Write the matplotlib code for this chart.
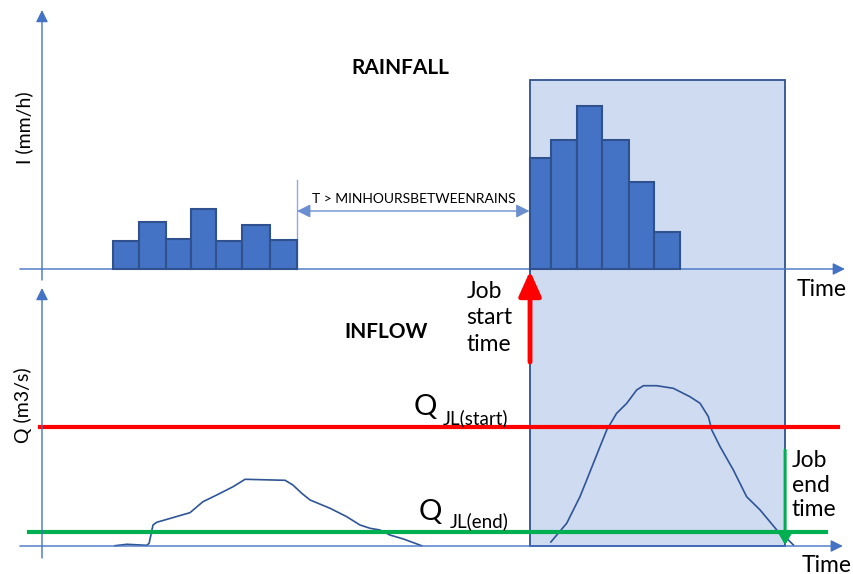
import numpy as np
import matplotlib
matplotlib.use("Agg")
import matplotlib.pyplot as plt
from matplotlib.patches import Rectangle

plt.rcParams["font.family"] = ["Lato", "DejaVu Sans"]

# — rainfall blocks (time in h, intensity in mm/h, schematic units) —
storm1_edges = [2.72, 3.75, 4.77, 5.73, 6.69, 7.69, 8.77, 9.81]
storm1_int = [2.8, 4.7, 3.0, 6.0, 2.8, 4.4, 2.9]
storm2_edges = [18.77, 19.58, 20.57, 21.54, 22.58, 23.54, 24.54]
storm2_int = [11.1, 12.9, 16.3, 12.9, 8.7, 3.7]

# — inflow hydrographs —
hydro1_t = [2.81, 3.26, 4.03, 4.12, 4.27, 4.41, 5.69, 6.19, 6.72, 7.35, 7.81, 9.35,
            9.65, 9.99, 10.31, 11.08, 11.72, 12.23, 12.62, 13.0, 13.38, 13.90, 14.60]
hydro1_q = [0.03, 0.17, 0.07, 0.27, 2.1, 2.37, 3.33, 4.43, 5.1, 5.93, 6.67, 6.57,
            6.1, 5.27, 4.6, 3.77, 2.93, 2.1, 1.77, 1.6, 1.1, 0.7, 0.03]
hydro2_t = [19.57, 20.18, 20.69, 20.95, 21.46, 21.72, 22.10, 22.49, 22.87, 23.13, 23.64, 24.28,
            24.92, 25.31, 25.63, 25.76, 26.08, 26.59, 27.10, 27.62, 28.26, 28.58, 28.90]
hydro2_q = [0.4, 2.27, 4.93, 6.6, 9.93, 11.6, 13.27, 14.27, 15.6, 16.03, 16.03, 15.77,
            14.93, 14.27, 12.93, 11.6, 9.93, 7.6, 4.93, 3.6, 1.6, 0.93, 0.1]

q_jl_start = 11.9
q_jl_end = 1.4
job_start = 18.75
job_end = 28.58
gap_start = 9.81
window_top = 18.9

AXIS_C = "#4472C4"
BAR_EDGE = "#2F528F"
LINE_C = "#2F5597"

fig = plt.figure(figsize=(8.54, 5.74), dpi=100)
ax_top = fig.add_axes([0, 0.5, 1, 0.5])
ax_bot = fig.add_axes([0, 0, 1, 0.5])
for ax in (ax_top, ax_bot):
    ax.set_xlim(-1.615, 31.23)
    ax.set_facecolor("none")
    ax.axis("off")
ax_top.set_ylim(-1.8, 26.9)
ax_bot.set_ylim(-2.8, 25.9)

arrow_kw = dict(arrowstyle="-|>,head_length=0.4,head_width=0.2", mutation_scale=18,
                color=AXIS_C, lw=1.0, shrinkA=0, shrinkB=0)

# axes with arrows
ax_top.annotate("", xy=(0, 25.9), xytext=(0, -1.1), arrowprops=arrow_kw, annotation_clip=False)
ax_top.annotate("", xy=(30.88, 0), xytext=(-0.85, 0), arrowprops=arrow_kw, annotation_clip=False)
ax_bot.annotate("", xy=(0, 25.8), xytext=(0, -1.2), arrowprops=arrow_kw, annotation_clip=False)
ax_bot.annotate("", xy=(30.8, 0), xytext=(-0.85, 0), arrowprops=arrow_kw, annotation_clip=False)

# job window spanning both panels
fig.canvas.draw()
inv = fig.transFigure.inverted()
x0, y1 = inv.transform(ax_top.transData.transform((job_start, window_top)))
x1, y0 = inv.transform(ax_bot.transData.transform((job_end, 0)))
fig.add_artist(Rectangle((x0, y0), x1 - x0, y1 - y0, transform=fig.transFigure,
                         facecolor="#CFDBF0", edgecolor=BAR_EDGE, lw=1.3, zorder=-1))

# rainfall
ax_top.bar(storm1_edges[:-1], storm1_int, width=np.diff(storm1_edges), align="edge",
           color=AXIS_C, edgecolor=BAR_EDGE, lw=1.5, zorder=3)
ax_top.bar(storm2_edges[:-1], storm2_int, width=np.diff(storm2_edges), align="edge",
           color=AXIS_C, edgecolor=BAR_EDGE, lw=1.5, zorder=3)
ax_top.text(13.77, 20.1, "RAINFALL", fontsize=15, fontweight="bold", ha="center", va="center")
ax_top.text(-0.7, 14.1, "I (mm/h)", fontsize=14, rotation=90, ha="center", va="center")
ax_top.text(29.03, -2.1, "Time", fontsize=16.5, ha="left", va="center")

# dry-period marker
ax_top.plot([gap_start, gap_start], [0, 8.9], color="#8FAADC", lw=1.0)
ax_top.annotate("", xy=(job_start, 5.8), xytext=(gap_start, 5.8),
                arrowprops=dict(arrowstyle="<|-|>,head_length=0.5,head_width=0.25", mutation_scale=16,
                                color="#6A8FD0", lw=1.0, shrinkA=0, shrinkB=0))
ax_top.text(14.31, 7.0, "T > MINHOURSBETWEENRAINS", fontsize=10, ha="center", va="center")

# inflow
ax_bot.plot(hydro1_t, hydro1_q, color=LINE_C, lw=1.2)
ax_bot.plot(hydro2_t, hydro2_q, color=LINE_C, lw=1.2)
ax_bot.plot([-0.08, 30.6], [q_jl_start, q_jl_start], color="#FF0000", lw=3)
ax_bot.plot([-0.5, 30.15], [q_jl_end, q_jl_end], color="#00B050", lw=3)
ax_bot.text(13.25, 21.4, "INFLOW", fontsize=15, fontweight="bold", ha="center", va="center")
ax_bot.text(-0.74, 14.1, "Q (m3/s)", fontsize=14, rotation=90, ha="center", va="center")
ax_bot.text(29.22, -1.9, "Time", fontsize=16.5, ha="left", va="center")

ax_bot.text(14.3, 13.93, "Q", fontsize=21, ha="left", va="center")
ax_bot.text(15.42, 12.8, "JL(start)", fontsize=13.5, ha="left", va="center")
ax_bot.text(14.5, 3.4, "Q", fontsize=21, ha="left", va="center")
ax_bot.text(15.69, 2.5, "JL(end)", fontsize=13.5, ha="left", va="center")

# job start / end arrows
ax_top.annotate("", xy=(job_start + 0.02, -0.2), xycoords=ax_top.transData,
                xytext=(job_start + 0.02, 18.4), textcoords=ax_bot.transData,
                arrowprops=dict(arrowstyle="-|>,head_length=1.0,head_width=0.45", mutation_scale=15,
                                color="#FF0000", lw=3.5, shrinkA=0, shrinkB=0),
                annotation_clip=False)
ax_bot.text(16.33, 22.8, "Job\nstart\ntime", fontsize=16.5, ha="left", va="center", linespacing=1.3)

ax_bot.annotate("", xy=(job_end, 0.1), xytext=(job_end, 9.6),
                arrowprops=dict(arrowstyle="-|>,head_length=0.6,head_width=0.35", mutation_scale=12,
                                color="#00B050", lw=2.2, shrinkA=0, shrinkB=0),
                annotation_clip=False)
ax_bot.text(28.83, 6.1, "Job\nend\ntime", fontsize=16.5, ha="left", va="center", linespacing=1.22)

fig.savefig("out.png", dpi=100)
